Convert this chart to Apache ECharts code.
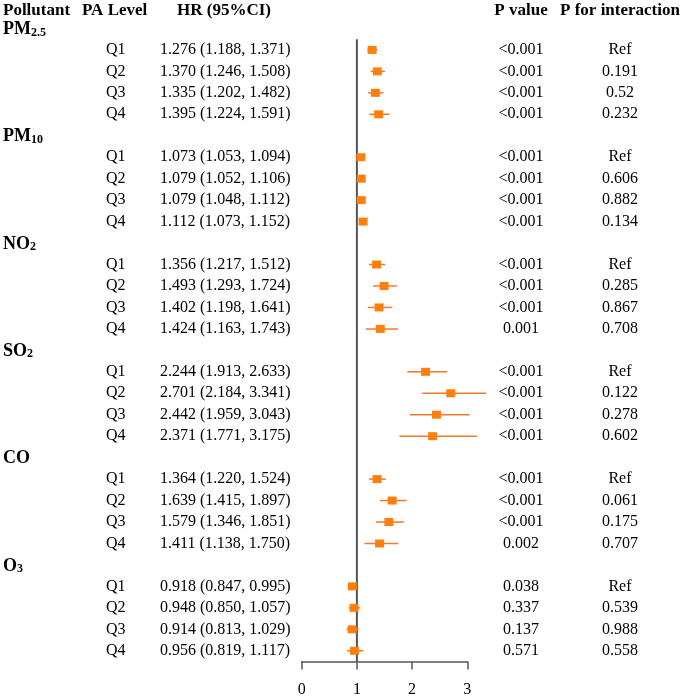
<!DOCTYPE html>
<html>
<head>
<meta charset="utf-8">
<script src="https://cdn.jsdelivr.net/npm/echarts@6/dist/echarts.min.js"></script>
<style>
  html, body { margin: 0; padding: 0; background: #fff; }
  #forest { width: 685px; height: 698px; }
</style>
</head>
<body>
<div id="forest"></div>
<script>
  // 污染物分组 (rich text: b = 粗体, s = 下标)
  var pollutants = ['{b|PM}{s|2.5}', '{b|PM}{s|10}', '{b|NO}{s|2}', '{b|SO}{s|2}', '{b|CO}', '{b|O}{s|3}'];
  var levels = ['Q1', 'Q2', 'Q3', 'Q4'];

  // HR 及 95%CI, 每个污染物 Q1-Q4
  var hr    = [1.276, 1.370, 1.335, 1.395,  1.073, 1.079, 1.079, 1.112,  1.356, 1.493, 1.402, 1.424,
               2.244, 2.701, 2.442, 2.371,  1.364, 1.639, 1.579, 1.411,  0.918, 0.948, 0.914, 0.956];
  var lower = [1.188, 1.246, 1.202, 1.224,  1.053, 1.052, 1.048, 1.073,  1.217, 1.293, 1.198, 1.163,
               1.913, 2.184, 1.959, 1.771,  1.220, 1.415, 1.346, 1.138,  0.847, 0.850, 0.813, 0.819];
  var upper = [1.371, 1.508, 1.482, 1.591,  1.094, 1.106, 1.112, 1.152,  1.512, 1.724, 1.641, 1.743,
               2.633, 3.341, 3.043, 3.175,  1.524, 1.897, 1.851, 1.750,  0.995, 1.057, 1.029, 1.117];
  var pValue = ['<0.001', '<0.001', '<0.001', '<0.001',  '<0.001', '<0.001', '<0.001', '<0.001',
                '<0.001', '<0.001', '<0.001', '0.001',   '<0.001', '<0.001', '<0.001', '<0.001',
                '<0.001', '<0.001', '<0.001', '0.002',   '0.038', '0.337', '0.137', '0.571'];
  var pInteraction = ['Ref', '0.191', '0.52', '0.232',   'Ref', '0.606', '0.882', '0.134',
                      'Ref', '0.285', '0.867', '0.708',  'Ref', '0.122', '0.278', '0.602',
                      'Ref', '0.061', '0.175', '0.707',  'Ref', '0.539', '0.988', '0.558'];
  var xTicks = [0, 1, 2, 3];

  var FONT = '"Liberation Serif", "Times New Roman", serif';
  var orange = '#ff7f0e';

  // 行号: 0 = 表头, 每组 1 行标题 + 4 行数据
  var groupRows = [];
  var itemRows = [];
  pollutants.forEach(function (name, i) {
    groupRows.push([1 + i * 5, name]);
    levels.forEach(function (q, j) {
      var k = i * 4 + j;
      itemRows.push([2 + i * 5 + j, hr[k], lower[k], upper[k], q,
        hr[k].toFixed(3) + ' (' + lower[k].toFixed(3) + ', ' + upper[k].toFixed(3) + ')',
        pValue[k], pInteraction[k]]);
    });
  });
  var lastRow = itemRows[itemRows.length - 1][0];

  function txt(x, y, text, align, extra) {
    var style = {
      text: text, x: x, y: y, align: align || 'left', verticalAlign: 'middle',
      fill: '#000', font: '16px ' + FONT
    };
    if (extra) { for (var k in extra) style[k] = extra[k]; }
    return { type: 'text', style: style };
  }

  var chart = echarts.init(document.getElementById('forest'));
  var option = {
    animation: false,
    backgroundColor: '#fff',
    grid: { left: 301.7, right: 217.7, top: 7, bottom: 36.5 },
    xAxis: {
      type: 'value', min: 0, max: 3, interval: 1, position: 'bottom',
      axisLine: { show: true, onZero: false, lineStyle: { color: '#555', width: 1.5 } },
      axisTick: { show: true, length: 8, lineStyle: { color: '#555', width: 1.5 } },
      axisLabel: { color: '#000', fontFamily: FONT, fontSize: 16, margin: 20,
        formatter: function (v) { return xTicks.indexOf(v) >= 0 ? String(v) : ''; } },
      splitLine: { show: false }
    },
    yAxis: {
      type: 'value', min: 0, max: lastRow + 0.5, inverse: true, show: false
    },
    graphic: [
      txt(3, 11, 'Pollutant', 'left', { font: 'bold 17px ' + FONT }),
      txt(82, 11, 'PA Level', 'left', { font: 'bold 17px ' + FONT }),
      txt(177, 11, 'HR (95%CI)', 'left', { font: 'bold 17px ' + FONT }),
      txt(521, 11, 'P value', 'center', { font: 'bold 17px ' + FONT }),
      txt(620, 11, 'P for interaction', 'center', { font: 'bold 17px ' + FONT })
    ],
    series: [
      {
        // 参考线 HR = 1
        type: 'line',
        data: [[1, 1.5], [1, lastRow + 0.5]],
        symbol: 'none', silent: true,
        lineStyle: { color: '#555', width: 2 },
        z: 1
      },
      {
        // 分组标题
        type: 'custom',
        data: groupRows,
        encode: { y: 0 },
        clip: false,
        renderItem: function (params, api) {
          var y = api.coord([0, api.value(0)])[1];
          return {
            type: 'text',
            style: {
              text: groupRows[params.dataIndex][1], x: 3, y: y + 1,
              align: 'left', verticalAlign: 'middle',
              rich: {
                b: { fontFamily: FONT, fontWeight: 'bold', fontSize: 18, color: '#000' },
                s: { fontFamily: FONT, fontWeight: 'bold', fontSize: 12, color: '#000',
                     verticalAlign: 'bottom', padding: [6, 0, 0, 0] }
              }
            }
          };
        }
      },
      {
        // 文本列
        type: 'custom',
        data: itemRows,
        encode: { y: 0 },
        clip: false,
        renderItem: function (params, api) {
          var r = itemRows[params.dataIndex];
          var y = api.coord([0, r[0]])[1];
          return {
            type: 'group',
            children: [
              txt(106, y, r[4]),
              txt(160, y, r[5]),
              txt(521, y, r[6], 'center'),
              txt(620, y, r[7], 'center')
            ]
          };
        }
      },
      {
        // 森林图: 置信区间 + 方块
        type: 'custom',
        data: itemRows.map(function (r) { return [r[0], r[1], r[2], r[3]]; }),
        encode: { y: 0, x: [1, 2, 3] },
        z: 3,
        renderItem: function (params, api) {
          var row = api.value(0);
          var p = api.coord([api.value(1), row]);
          var a = api.coord([api.value(2), row]);
          var b = api.coord([api.value(3), row]);
          return {
            type: 'group',
            children: [
              { type: 'line', shape: { x1: a[0], y1: a[1], x2: b[0], y2: b[1] },
                style: { stroke: '#f5782a', lineWidth: 1.5 } },
              { type: 'rect', shape: { x: p[0] - 4.5, y: p[1] - 4, width: 9, height: 8 },
                style: { fill: orange } }
            ]
          };
        }
      }
    ]
  };
  chart.setOption(option);
</script>
</body>
</html>
